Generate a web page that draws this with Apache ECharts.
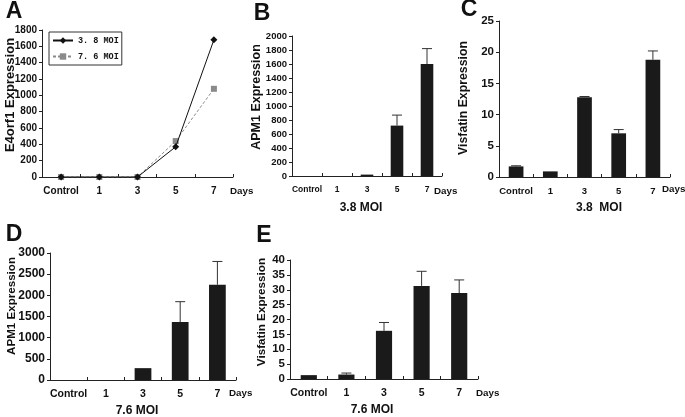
<!DOCTYPE html>
<html><head><meta charset="utf-8">
<script src="https://cdn.jsdelivr.net/npm/echarts@6/dist/echarts.min.js"></script>
<style>html,body{margin:0;padding:0;background:#fff}#c{width:685px;height:417px}</style>
</head><body><div id="c"></div>
<script>
// ---- data ----
var categories = ['Control', '1', '3', '5', '7'];
// Panel A: E4orf1 expression (line)
var aSeries1Name = '3. 8 MOI';
var aSeries2Name = '7. 6 MOI';
var aVals38 = [0, 0, 0, 370, 1680];
var aVals76 = [0, 0, 0, 440, 1080];
// Panel B: APM1, 3.8 MOI
var bVals = [0, 0, 20, 720, 1600];
var bErr  = [0, 0, 0, 150, 220];
// Panel C: Visfatin, 3.8 MOI
var cVals = [1.7, 0.9, 12.8, 7.0, 18.8];
var cErr  = [0.1, 0, 0.1, 0.6, 1.4];
// Panel D: APM1, 7.6 MOI
var dVals = [0, 0, 280, 1370, 2250];
var dErr  = [0, 0, 0, 480, 550];
// Panel E: Visfatin, 7.6 MOI
var eVals = [1.3, 1.5, 16.2, 31.3, 28.9];
var eErr  = [0, 0.5, 2.8, 4.9, 4.4];
// axis ticks
var aTicks = {min: 0, max: 1800, interval: 200};
var bTicks = {min: 0, max: 2000, interval: 200};
var cTicks = {min: 0, max: 25, interval: 5};
var dTicks = {min: 0, max: 3000, interval: 500};
var eTicks = {min: 0, max: 40, interval: 5};

var FONT = 'Liberation Sans, Arial, sans-serif';
var chart = echarts.init(document.getElementById('c'), null, {renderer: 'canvas'});

var grids = [
  {left: 42, right: 452, top: 30, bottom: 240},
  {left: 292, right: 243, top: 36, bottom: 241},
  {left: 499, right: 15, top: 21, bottom: 240},
  {left: 50, right: 449, top: 253, bottom: 37},
  {left: 290, right: 207, top: 260, bottom: 38}
];
var catFont = [10, 8.5, 9.5, 10.5, 10.5];
var valFont = [10, 9.5, 11.5, 12, 11.5];
var ticks = [aTicks, bTicks, cTicks, dTicks, eTicks];

var xAxes = grids.map(function (g, i) {
  return {
    type: 'category', gridIndex: i, data: categories, boundaryGap: true,
    axisLine: {lineStyle: {color: '#222', width: 1}},
    axisTick: {show: true, inside: true, length: 3, lineStyle: {color: '#222'}},
    axisLabel: {color: '#111', fontFamily: FONT, fontWeight: 'bold', fontSize: catFont[i], margin: 9, interval: 0}
  };
});
var yAxes = grids.map(function (g, i) {
  return {
    type: 'value', gridIndex: i, min: ticks[i].min, max: ticks[i].max, interval: ticks[i].interval,
    axisLine: {show: true, lineStyle: {color: '#222', width: 1}},
    axisTick: {show: true, inside: false, length: 3, lineStyle: {color: '#222'}},
    splitLine: {show: false},
    axisLabel: {color: '#111', fontFamily: FONT, fontWeight: 'bold', fontSize: valFont[i], margin: 5,
      formatter: function (v) { return String(v); }}
  };
});

function errSeries(idx, vals, errs) {
  var data = vals.map(function (v, k) { return [k, v, errs[k]]; });
  return {
    type: 'custom', xAxisIndex: idx, yAxisIndex: idx, z: 3,
    encode: {x: 0, y: 1},
    renderItem: function (params, api) {
      var e = api.value(2);
      if (!(e > 0)) return null;
      var x = api.value(0), v = api.value(1);
      var p0 = api.coord([x, v]);
      var p1 = api.coord([x, v + e]);
      var hw = 5;
      return {
        type: 'group',
        children: [
          {type: 'line', shape: {x1: p0[0], y1: p0[1], x2: p1[0], y2: p1[1]}, style: {stroke: '#333', lineWidth: 1}},
          {type: 'line', shape: {x1: p1[0] - hw, y1: p1[1], x2: p1[0] + hw, y2: p1[1]}, style: {stroke: '#333', lineWidth: 1}}
        ]
      };
    },
    data: data
  };
}
function barSeries(idx, vals, w) {
  return {
    type: 'bar', xAxisIndex: idx, yAxisIndex: idx, data: vals, barWidth: w,
    itemStyle: {color: '#1a1a1a'}, silent: true
  };
}

var series = [
  {
    name: aSeries1Name, type: 'line', xAxisIndex: 0, yAxisIndex: 0, data: aVals38,
    symbol: 'diamond', symbolSize: 7, z: 4,
    lineStyle: {color: '#111', width: 1}, itemStyle: {color: '#111'}
  },
  {
    name: aSeries2Name, type: 'line', xAxisIndex: 0, yAxisIndex: 0, data: aVals76,
    symbol: 'rect', symbolSize: 6, z: 3,
    lineStyle: {color: '#8a8a8a', width: 1, type: [3, 2]}, itemStyle: {color: '#8a8a8a'}
  },
  barSeries(1, bVals, '42%'), errSeries(1, bVals, bErr),
  barSeries(2, cVals, '43%'), errSeries(2, cVals, cErr),
  barSeries(3, dVals, '45%'), errSeries(3, dVals, dErr),
  barSeries(4, eVals, '43%'), errSeries(4, eVals, eErr)
];

function txt(x, y, s, size, opts) {
  opts = opts || {};
  return {
    type: 'text', x: x, y: y, rotation: opts.rot || 0, z: 10,
    style: {
      text: s, fill: '#111', font: 'bold ' + size + 'px ' + FONT,
      textAlign: opts.align || 'center', textVerticalAlign: 'middle'
    }
  };
}
var R = Math.PI / 2;
var graphics = [
  txt(14, 12, 'A', 23), txt(262, 14, 'B', 23), txt(469, 10, 'C', 23),
  txt(14, 235, 'D', 23), txt(264, 236, 'E', 23),
  txt(10, 95, 'E4orf1 Expression', 13, {rot: R}),
  txt(257, 97, 'APM1 Expression', 12.5, {rot: R}),
  txt(464, 98, 'Visfatin Expression', 12.3, {rot: R}),
  txt(12, 306, 'APM1 Expression', 11.6, {rot: R}),
  txt(262, 312, 'Visfatin Expression', 11.7, {rot: R}),
  txt(230, 191, 'Days', 9.8, {align: 'left'}),
  txt(434, 191, 'Days', 9.8, {align: 'left'}),
  txt(662, 189, 'Days', 9.8, {align: 'left'}),
  txt(229, 393, 'Days', 9.8, {align: 'left'}),
  txt(476, 393, 'Days', 9.8, {align: 'left'}),
  txt(361, 208, '3.8 MOI', 12),
  txt(599, 208, '3.8  MOI', 12),
  txt(137, 411, '7.6 MOI', 12),
  txt(372, 410, '7.6 MOI', 12)
];

chart.setOption({
  animation: false,
  backgroundColor: '#fff',
  grid: grids,
  xAxis: xAxes,
  yAxis: yAxes,
  legend: {
    show: true, orient: 'vertical', left: 49, top: 32, padding: [4, 3, 4, 3], itemGap: 7,
    itemWidth: 20, itemHeight: 8, borderColor: '#333', borderWidth: 1,
    textStyle: {fontFamily: 'Liberation Mono, DejaVu Sans Mono, monospace', fontWeight: 'bold', fontSize: 8.5, color: '#111'},
    data: [aSeries1Name, aSeries2Name]
  },
  series: series,
  graphic: graphics
});
</script>
</body></html>
